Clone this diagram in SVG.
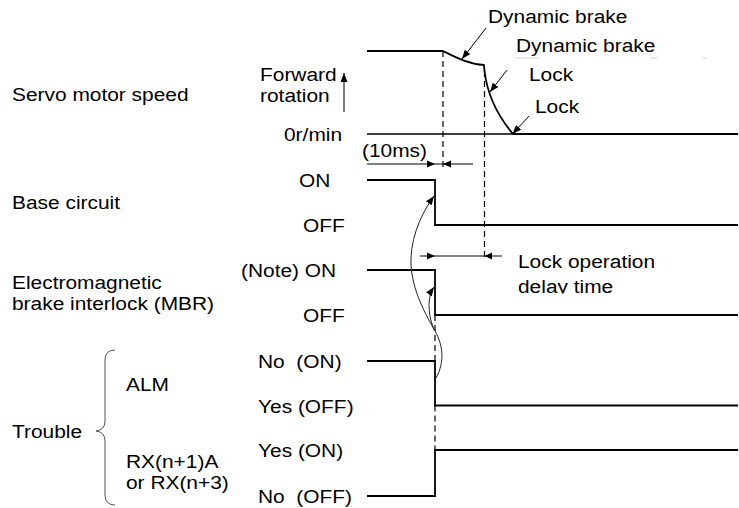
<svg xmlns="http://www.w3.org/2000/svg" width="739" height="508" viewBox="0 0 739 508">
<defs>
<style>
text{font-family:"Liberation Sans",Arial,Helvetica,sans-serif;font-size:19px;fill:#000;white-space:pre}
.sig{fill:none;stroke:#000;stroke-width:1.8}
.zero{fill:none;stroke:#000;stroke-width:1.3}
.dash{fill:none;stroke:#000;stroke-width:1.2;stroke-dasharray:6 4}
.dim{fill:none;stroke:#000;stroke-width:1}
.head{fill:#000;stroke:none}
.curve{fill:none;stroke:#222;stroke-width:1}
.brace{fill:none;stroke:#555;stroke-width:1}
.ghost{fill:none;stroke:#d4d4d4;stroke-width:1}
</style>
<marker id="ah" markerWidth="9" markerHeight="7" refX="9" refY="3.5" orient="auto" markerUnits="userSpaceOnUse"><path d="M0,0 L9,3.5 L0,7 z" fill="#000"/></marker>
<clipPath id="clipDelay"><rect x="500" y="270" width="200" height="23.5"/></clipPath>
</defs>
<rect width="739" height="508" fill="#fff"/>

<g id="speed">
<path class="sig" d="M367,51 L443,51 C455,57 468,64 484,65 L484.5,71 C487,92 497,115 513,134"/>
<line class="zero" x1="367" y1="134" x2="513" y2="134"/>
<line class="sig" x1="513" y1="134" x2="738" y2="134"/>
<line class="dim" x1="344" y1="112" x2="344" y2="73" marker-end="url(#ah)"/>
<text transform="translate(12,101) scale(1.1,1)">Servo motor speed</text>
<text transform="translate(260,80.5) scale(1.1,1)">Forward</text>
<text transform="translate(260,102) scale(1.1,1)">rotation</text>
<text transform="translate(284,141) scale(1.1,1)">0r/min</text>
<text transform="translate(488,23) scale(1.1,1)">Dynamic brake</text>
<text transform="translate(516,51.5) scale(1.1,1)">Dynamic brake</text>
<text transform="translate(529,81) scale(1.1,1)">Lock</text>
<text transform="translate(535,113) scale(1.1,1)">Lock</text>
<path class="ghost" d="M515,58 H540 M650,58 H657 M703,58 H707"/>
</g>

<g id="base-circuit">
<path class="sig" d="M367,180 L435,180 L435,225 L738,225"/>
<text transform="translate(12,208.5) scale(1.1,1)">Base circuit</text>
<text transform="translate(299,187) scale(1.1,1)">ON</text>
<text transform="translate(303,232) scale(1.1,1)">OFF</text>
</g>

<g id="mbr">
<path class="sig" d="M367,270 L435,270 L435,315 L738,315"/>
<text transform="translate(12,289) scale(1.1,1)">Electromagnetic</text>
<text transform="translate(12,310) scale(1.1,1)">brake interlock (MBR)</text>
<text transform="translate(241,277) scale(1.1,1)">(Note) ON</text>
<text transform="translate(303,322) scale(1.1,1)">OFF</text>
</g>

<g id="trouble">
<path class="brace" d="M115,350 Q105,350 105,360 L105,421 Q105,430 96,431 Q105,432 105,441 L105,495 Q105,505 115,505"/>
<text transform="translate(12,438) scale(1.1,1)">Trouble</text>
</g>

<g id="alm">
<path class="sig" d="M367,361 L435,361 L435,405.5 L738,405.5"/>
<text transform="translate(126,391) scale(1.1,1)">ALM</text>
<text transform="translate(258,368) scale(1.1,1)" xml:space="preserve">No  (ON)</text>
<text transform="translate(258,412.5) scale(1.1,1)">Yes (OFF)</text>
</g>

<g id="rx">
<path class="sig" d="M367,496 L435,496 L435,450 L738,450"/>
<text transform="translate(126,468) scale(1.1,1)">RX(n+1)A</text>
<text transform="translate(126,489) scale(1.1,1)">or RX(n+3)</text>
<text transform="translate(258,457) scale(1.1,1)">Yes (ON)</text>
<text transform="translate(258,503) scale(1.1,1)" xml:space="preserve">No  (OFF)</text>
</g>

<g id="lock-delay">
<text transform="translate(518,267.5) scale(1.1,1)">Lock operation</text>
<g clip-path="url(#clipDelay)"><text transform="translate(518,292.5) scale(1.1,1)">delay time</text></g>
</g>

<g id="connectors">
<line class="dash" x1="443" y1="51" x2="443" y2="168"/>
<line class="dash" x1="484.5" y1="71" x2="484.5" y2="258"/>
<line class="dash" x1="435" y1="315" x2="435" y2="361"/>
<line class="dash" x1="435" y1="405.5" x2="435" y2="450"/>
<line class="dim" x1="367" y1="164" x2="473" y2="164"/>
<polygon class="head" points="427,160.5 435,164 427,167.5"/>
<polygon class="head" points="451,160.5 443,164 451,167.5"/>
<text transform="translate(362,157) scale(1.1,1)">(10ms)</text>
<line class="dim" x1="420" y1="256" x2="502" y2="256"/>
<polygon class="head" points="427,252.5 435,256 427,259.5"/>
<polygon class="head" points="492,252.5 484.5,256 492,259.5"/>
<line class="dim" x1="486" y1="28" x2="462" y2="59" marker-end="url(#ah)"/>
<line class="dim" x1="507" y1="70" x2="490" y2="92" marker-end="url(#ah)"/>
<line class="dim" x1="529" y1="116" x2="512.5" y2="134" marker-end="url(#ah)"/>
<path class="curve" d="M436,378 C445,362 443,345 435,331 C423,310 410,285 411,258 C412,232 424,210 434,196" marker-end="url(#ah)"/>
<path class="curve" d="M435,331 C430,322 425,300 434,287" marker-end="url(#ah)"/>
</g>
</svg>
